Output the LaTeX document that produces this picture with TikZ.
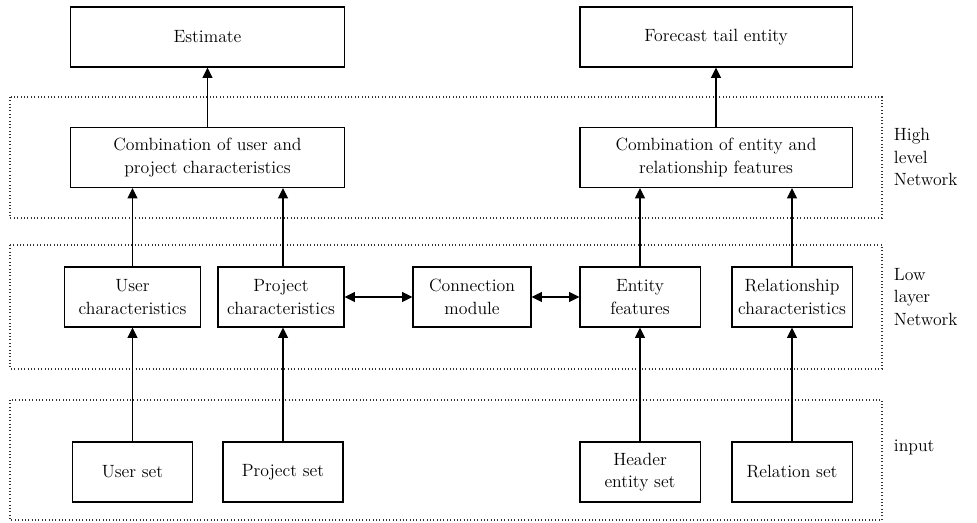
\documentclass[tikz,border=0pt]{standalone}
\usetikzlibrary{arrows.meta}
\begin{document}
\begin{tikzpicture}[x=0.025cm, y=-0.025cm,
    box/.style={draw, line width=0.75pt, rectangle, align=center, minimum height=1.5cm, inner sep=1pt, font=\fontsize{12.6}{16}\selectfont},
    layer/.style={draw=black!80, line width=0.8pt, dash pattern=on 0.7pt off 1.7pt},
    lbl/.style={anchor=west, align=left, font=\fontsize{12.6}{16}\selectfont},
    arr/.style={line width=0.75pt, -{Triangle[length=2.6mm, width=2.5mm]}},
    darr/.style={line width=0.75pt, {Triangle[length=2.6mm, width=2.5mm]}-{Triangle[length=2.6mm, width=2.5mm]}}]
    \useasboundingbox (0,0) rectangle (977,523);

    \draw [layer] (10,97) rectangle (882,218);
    \draw [layer] (10,245) rectangle (882,369);
    \draw [layer] (10,400) rectangle (882,520);

    \node [box, minimum width=6.825cm] (est) at (207.5,37) {Estimate};
    \node [box, minimum width=6.8cm] (fore) at (716,37) {Forecast tail entity};
    \node [box, minimum width=6.825cm] (combu) at (207.5,157.5) {Combination of user and\\project characteristics};
    \node [box, minimum width=6.8cm] (combe) at (716,157.5) {Combination of entity and\\relationship features};

    \node [box, minimum width=3.4cm] (userc) at (132.5,297) {User\\characteristics};
    \node [box, minimum width=3.15cm] (projc) at (281,297) {Project\\characteristics};
    \node [box, minimum width=2.95cm] (conn) at (472,297) {Connection\\module};
    \node [box, minimum width=3cm] (entf) at (640,297) {Entity\\features};
    \node [box, minimum width=3cm] (relc) at (792,297) {Relationship\\characteristics};

    \node [box, minimum width=3cm] (users) at (132.5,472) {User set};
    \node [box, minimum width=3cm] (projs) at (283,472) {Project set};
    \node [box, minimum width=3cm] (heads) at (640,472) {Header\\entity set};
    \node [box, minimum width=3cm] (rels) at (792,472) {Relation set};

    \node [lbl] (high) at (889,157) {High\\level\\Network};
    \node [lbl] (low) at (889,297) {Low\\layer\\Network};
    \node [lbl] (inp) at (889,447) {input};

    \draw [arr] (combu) -- (est);
    \draw [arr] (combe) -- (fore);
    \draw [arr] (userc.north) -- (userc.north |- combu.south);
    \draw [arr] (projs.north |- projc.north) -- (projs.north |- combu.south);
    \draw [arr] (entf.north) -- (entf.north |- combe.south);
    \draw [arr] (relc.north) -- (relc.north |- combe.south);
    \draw [arr] (users) -- (userc);
    \draw [arr] (projs.north) -- (projs.north |- projc.south);
    \draw [arr] (heads) -- (entf);
    \draw [arr] (rels) -- (relc);
    \draw [darr] (projc) -- (conn);
    \draw [darr] (conn) -- (entf);
\end{tikzpicture}
\end{document}
